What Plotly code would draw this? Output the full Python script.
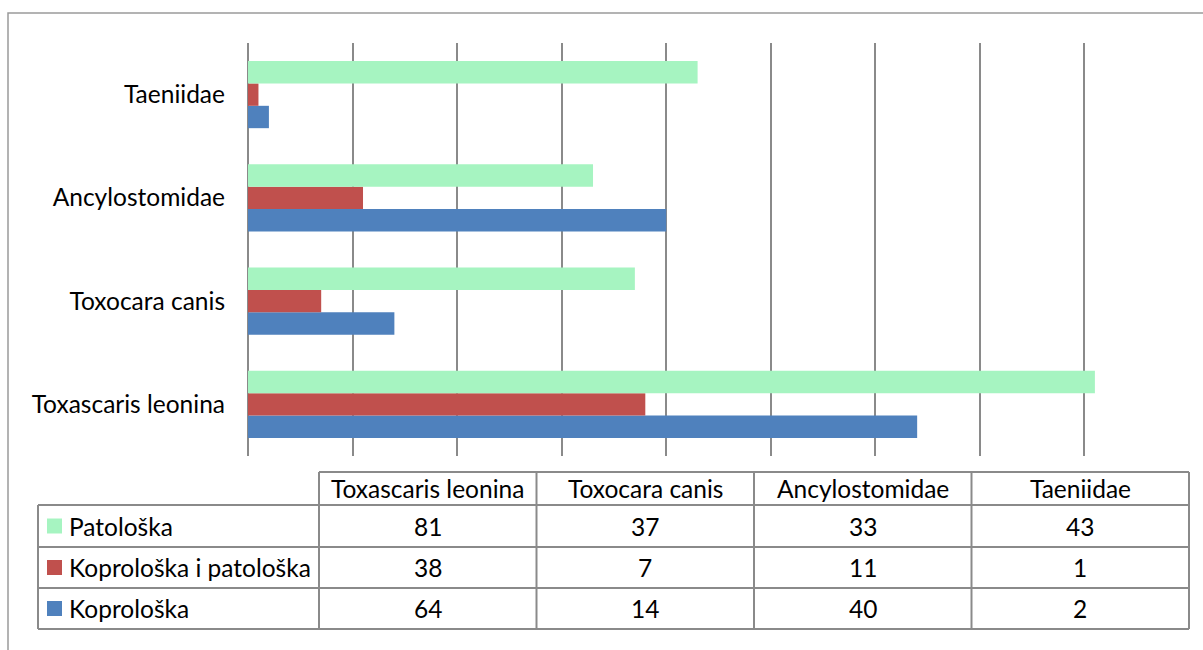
import plotly.graph_objects as go

categories = ["Toxascaris leonina", "Toxocara canis", "Ancylostomidae", "Taeniidae"]
series_names = ["Patološka", "Koprološka i patološka", "Koprološka"]
patoloska = [81, 37, 33, 43]
kopro_pato = [38, 7, 11, 1]
koproloska = [64, 14, 40, 2]
series_values = [patoloska, kopro_pato, koproloska]
series_colors = ["#A6F4C1", "#C0504D", "#4F81BD"]
x_ticks = [0, 10, 20, 30, 40, 50, 60, 70, 80, 90]

W, H = 1203, 650
PL, PR, PT, PB = 248, 1189, 43, 456  # plot area in pixels
FONT = "Lato, Carlito, Calibri, sans-serif"
FS = 24.5
GRID = "#8A8A8A"
TXT = "#000000"


def px(x):
    return (x - PL) / (PR - PL)


def py(y):
    return (PB - y) / (PB - PT)


fig = go.Figure()
# plot from bottom of group upward: Koprološka (blue) first
for name, vals, col in reversed(list(zip(series_names, series_values, series_colors))):
    fig.add_trace(go.Bar(
        y=categories, x=vals, name=name, orientation="h",
        marker=dict(color=col, line=dict(width=0)),
        showlegend=False, hoverinfo="x+y",
    ))

fig.update_layout(
    width=W, height=H,
    margin=dict(l=PL, r=W - PR, t=PT, b=H - PB, autoexpand=False),
    paper_bgcolor="white", plot_bgcolor="white",
    barmode="group", bargap=0.35, bargroupgap=0,
    font=dict(family=FONT, size=FS, color=TXT),
)
fig.update_xaxes(
    range=[x_ticks[0], x_ticks[-1]], tickvals=x_ticks, showticklabels=False,
    showgrid=True, gridcolor=GRID, gridwidth=2,
    zeroline=True, zerolinecolor=GRID, zerolinewidth=2,
    showline=False, fixedrange=True,
)
fig.update_yaxes(
    categoryorder="array", categoryarray=categories,
    showgrid=False, zeroline=False, showline=False,
    ticks="", ticklabelstandoff=22,
    tickfont=dict(family=FONT, size=FS, color=TXT),
    fixedrange=True,
)

shapes = []
annotations = []
# outer chart frame (extends past the right and bottom window edges)
shapes.append(dict(type="rect", xref="paper", yref="paper",
                   x0=px(8), x1=px(1215), y0=py(13), y1=py(665),
                   line=dict(color="#9A9A9A", width=1.5), fillcolor="rgba(0,0,0,0)", layer="below"))

# data table
LEFT = 38
COL0 = 319
COLW = (PR - COL0) / len(categories)
ROW_Y = [472, 505, 547, 588, 629]
line = dict(color=GRID, width=2)

col_x = [COL0 + i * COLW for i in range(len(categories) + 1)]
# header row borders (only over category columns)
shapes.append(dict(type="line", xref="paper", yref="paper", x0=px(COL0), x1=px(PR),
                   y0=py(ROW_Y[0]), y1=py(ROW_Y[0]), line=line))
for yy in ROW_Y[1:]:
    shapes.append(dict(type="line", xref="paper", yref="paper", x0=px(LEFT), x1=px(PR),
                       y0=py(yy), y1=py(yy), line=line))
for xx in col_x:
    shapes.append(dict(type="line", xref="paper", yref="paper", x0=px(xx), x1=px(xx),
                       y0=py(ROW_Y[0]), y1=py(ROW_Y[-1]), line=line))
shapes.append(dict(type="line", xref="paper", yref="paper", x0=px(LEFT), x1=px(LEFT),
                   y0=py(ROW_Y[1]), y1=py(ROW_Y[-1]), line=line))

# header labels
for i, cat in enumerate(categories):
    annotations.append(dict(xref="paper", yref="paper",
                            x=px(col_x[i] + COLW / 2), y=py((ROW_Y[0] + ROW_Y[1]) / 2),
                            text=cat, showarrow=False, xanchor="center", yanchor="middle",
                            font=dict(family=FONT, size=FS, color=TXT)))

# series rows
for r, (name, vals, col) in enumerate(zip(series_names, series_values, series_colors)):
    yc = (ROW_Y[r + 1] + ROW_Y[r + 2]) / 2
    shapes.append(dict(type="rect", xref="paper", yref="paper",
                       x0=px(47), x1=px(62), y0=py(yc - 7.5), y1=py(yc + 7.5),
                       line=dict(width=0), fillcolor=col))
    annotations.append(dict(xref="paper", yref="paper", x=px(67), y=py(yc),
                            text=name, showarrow=False, xanchor="left", yanchor="middle",
                            font=dict(family=FONT, size=FS, color=TXT)))
    for i, v in enumerate(vals):
        annotations.append(dict(xref="paper", yref="paper",
                                x=px(col_x[i] + COLW / 2), y=py(yc),
                                text=str(v), showarrow=False, xanchor="center", yanchor="middle",
                                font=dict(family=FONT, size=FS, color=TXT)))

fig.update_layout(shapes=shapes, annotations=annotations)
fig.write_html("out.html")
